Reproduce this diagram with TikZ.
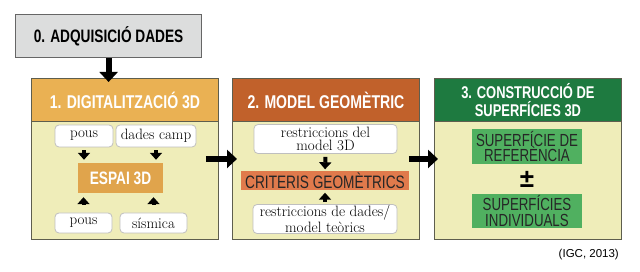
\documentclass[tikz,border=0pt]{standalone}
\usepackage{fontspec}
\usepackage{xcolor}
\usepackage{tikz}
\usetikzlibrary{arrows.meta,positioning}
\newfontfamily\condsans[FakeStretch=0.76]{Liberation Sans}
\newfontfamily\plainsans{Liberation Sans}
\definecolor{adqgray}{HTML}{DCDDDD}
\definecolor{digorange}{HTML}{EAB153}
\definecolor{espaiorange}{HTML}{E0A44C}
\definecolor{modbrown}{HTML}{C1612B}
\definecolor{critorange}{HTML}{E07A4C}
\definecolor{supgreen}{HTML}{1E7A40}
\definecolor{boxgreen}{HTML}{50B060}
\definecolor{bodyyellow}{HTML}{EFEDB9}
\definecolor{panelframe}{HTML}{5E5E4E}

\begin{document}
\begin{tikzpicture}[x=1pt, y=-1pt, >={Triangle[length=10pt,width=18pt]},
  panel/.style={draw=panelframe, line width=0.9pt, fill=bodyyellow, anchor=north west, inner sep=0pt, minimum width=187pt, minimum height=161pt},
  header/.style={draw=panelframe, line width=0.9pt, anchor=north west, inner sep=0pt, minimum width=187pt, minimum height=43pt, text=white, align=center, font=\condsans\bfseries\fontsize{18.5}{18}\selectfont},
  datbox/.style={draw=black!25, line width=0.8pt, fill=white, rounded corners=4pt, inner sep=0pt, align=center, font=\fontsize{15}{13.5}\selectfont},
  keybox/.style={inner sep=0pt, align=center, text=black!85, font=\condsans\fontsize{18}{16}\selectfont},
  bigarrow/.style={->, line width=6pt},
  smallarrow/.style={-{Triangle[length=7pt,width=12pt]}, line width=4pt, shorten <=3pt, shorten >=3pt}]
  \useasboundingbox (0,0) rectangle (640,272);

  % 0. acquisition
  \node[fill=adqgray, draw=black!60, line width=1.2pt, anchor=north west, minimum width=186pt, minimum height=43pt, inner sep=0pt, font=\condsans\bfseries\fontsize{18}{18}\selectfont] (adq) at (15,14) {0. ADQUISICIÓ DADES};

  % panels
  \node[panel] (dig) at (31,78) {};
  \node[header, fill=digorange] (digh) at (31,78) {1. DIGITALITZACIÓ 3D};
  \node[panel] (mod) at (232,78) {};
  \node[header, fill=modbrown] (modh) at (232,78) {2. MODEL GEOMÈTRIC};
  \node[panel] (sup) at (434,78) {};
  \node[header, fill=supgreen, font=\condsans\bfseries\fontsize{17}{18}\selectfont] (suph) at (434,78) {3. CONSTRUCCIÓ DE\\SUPERFÍCIES 3D};

  % 1. digitalitzacio
  \node[datbox, minimum width=58pt, minimum height=22pt] (pousa) at (84,136) {pous};
  \node[datbox, minimum width=80pt, minimum height=22pt] (camp) at (156,136) {dades camp};
  \node[keybox, fill=espaiorange, text=white, font=\condsans\bfseries\fontsize{18}{18}\selectfont, minimum width=85pt, minimum height=30pt] (espai) at (120.5,178) {ESPAI 3D};
  \node[datbox, minimum width=57pt, minimum height=20pt] (pousb) at (83.5,223) {pous};
  \node[datbox, minimum width=67pt, minimum height=20pt] (sismica) at (153.5,223) {sísmica};

  \draw[smallarrow] (pousa.south) -- (pousa.south |- espai.north);
  \draw[smallarrow] (camp.south) -- (camp.south |- espai.north);
  \draw[smallarrow, shorten <=8pt, shorten >=4pt] (pousb.north) -- (pousb.north |- espai.south);
  \draw[smallarrow, shorten <=8pt, shorten >=4pt] (sismica.north) -- (sismica.north |- espai.south);

  % 2. model geometric
  \node[datbox, minimum width=143pt, minimum height=29pt] (resta) at (325.5,139) {restriccions del\\model 3D};
  \node[keybox, fill=critorange, minimum width=168pt, minimum height=19pt] (crit) at (325,181) {CRITERIS GEOMÈTRICS};
  \node[datbox, minimum width=144pt, minimum height=29pt] (restb) at (325,219) {restriccions de dades/\\model teòrics};

  \draw[smallarrow, shorten <=3pt, shorten >=2pt] (resta.south) -- (crit.north);
  \draw[smallarrow, shorten <=2pt, shorten >=2pt] (restb.north) -- (crit.south);

  % 3. superficies
  \node[keybox, fill=boxgreen, minimum width=110pt, minimum height=35pt, font=\condsans\fontsize{17.5}{16}\selectfont] (supa) at (527,146.5) {SUPERFÍCIE DE\\REFERÈNCIA};
  \node[font=\plainsans\bfseries\fontsize{26}{26}\selectfont, inner sep=0pt] (pm) at (527,179) {±};
  \node[keybox, fill=boxgreen, minimum width=110pt, minimum height=34pt, font=\condsans\fontsize{17.5}{16}\selectfont] (supb) at (527,211) {SUPERFÍCIES\\INDIVIDUALS};

  % flow
  \draw[bigarrow, shorten >=-4pt] (adq.south) -- (adq.south |- digh.north);
  \draw[bigarrow, shorten <=-13pt, shorten >=-5pt] (dig.east) -- (mod.west);
  \draw[bigarrow, shorten <=-11pt, shorten >=-4pt] (mod.east) -- (sup.west);

  \node[font=\plainsans\fontsize{11.5}{12}\selectfont, anchor=east, inner sep=0pt] (igc) at (619,255) {(IGC, 2013)};
\end{tikzpicture}
\end{document}
